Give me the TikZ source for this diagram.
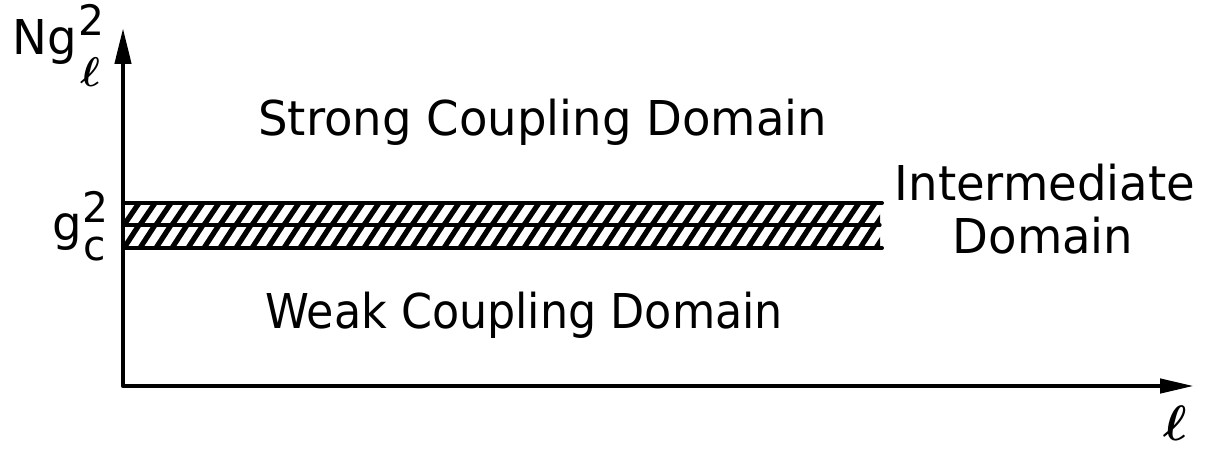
\documentclass[tikz,border=0pt]{standalone}
\usepackage{fontspec}
\usepackage{bm}
\usetikzlibrary{arrows.meta}
\newfontfamily\lett[FakeStretch=0.97]{DejaVu Sans}
\newfontfamily\lettnarrow[FakeStretch=0.925]{DejaVu Sans}
\begin{document}
\begin{tikzpicture}[x=0.5pt,y=-0.5pt]
\tikzset{
  axisline/.style={line width=2.2pt, line join=round,
    {Triangle[length=18pt,width=8pt]}-{Triangle[length=17pt,width=7pt]}},
  bandline/.style={line width=2pt, line cap=round},
  midline/.style={line width=1.6pt, line cap=round},
  hatchline/.style={line width=2.6pt},
  biglabel/.style={inner sep=0pt, font=\lett\fontsize{24}{28}\selectfont},
  narrowlabel/.style={inner sep=0pt, font=\lettnarrow\fontsize{24}{28}\selectfont},
  smalllabel/.style={inner sep=0pt, font=\lett\fontsize{21}{24}\selectfont},
  elllabel/.style={inner sep=0pt},
}
\useasboundingbox (0,0) rectangle (1208,449);

% axes
\coordinate (origin) at (123,386);
\coordinate (ytip) at (123,28);
\coordinate (xtip) at (1194,386);
\draw[axisline] (ytip) -- (origin) -- (xtip);

% critical band
\coordinate (bandTL) at (123,203);
\coordinate (bandTR) at (882,203);
\coordinate (bandML) at (123,225);
\coordinate (bandMR) at (880,225);
\coordinate (bandBL) at (123,248);
\coordinate (bandBR) at (882,248);
\begin{scope}
  \clip (125,205) rectangle (880,223);
  \foreach \x in {108,124,...,890}
    \draw[hatchline] (\x,225) -- (\x+15,203);
\end{scope}
\begin{scope}
  \clip (125,227) rectangle (880,246);
  \foreach \x in {108,124,...,890}
    \draw[hatchline] (\x,248) -- (\x+15,225);
\end{scope}
\draw[bandline] (bandTL) -- (bandTR);
\draw[midline] (bandML) -- (bandMR);
\draw[bandline] (bandBL) -- (bandBR);

% domain labels
\node[biglabel, anchor=base west] (strong) at (258,135) {Strong Coupling Domain};
\node[narrowlabel, anchor=base west] (weak) at (265,328) {Weak Coupling Domain};
\node[biglabel, anchor=base] (inter) at (1045,200) {Intermediate};
\node[biglabel, anchor=base] (interdom) at (1043,253) {Domain};

% vertical axis label
\node[biglabel, anchor=base west] (Ng) at (12,55) {Ng};
\node[smalllabel, anchor=base west] (Ngsup) at (78,36) {2};
\node[elllabel, anchor=base west] (Ngsub) at (80,87) {\fontsize{22}{24}\selectfont$\bm{\ell}$};

% critical coupling label
\node[biglabel, anchor=base west] (gc) at (52,240) {g};
\node[smalllabel, anchor=base west] (gcsup) at (82,222) {2};
\node[smalllabel, anchor=base west] (gcsub) at (83,260) {c};

% horizontal axis label
\node[elllabel, anchor=base west] (ell) at (1163,440) {\fontsize{30}{32}\selectfont$\bm{\ell}$};
\end{tikzpicture}
\end{document}
